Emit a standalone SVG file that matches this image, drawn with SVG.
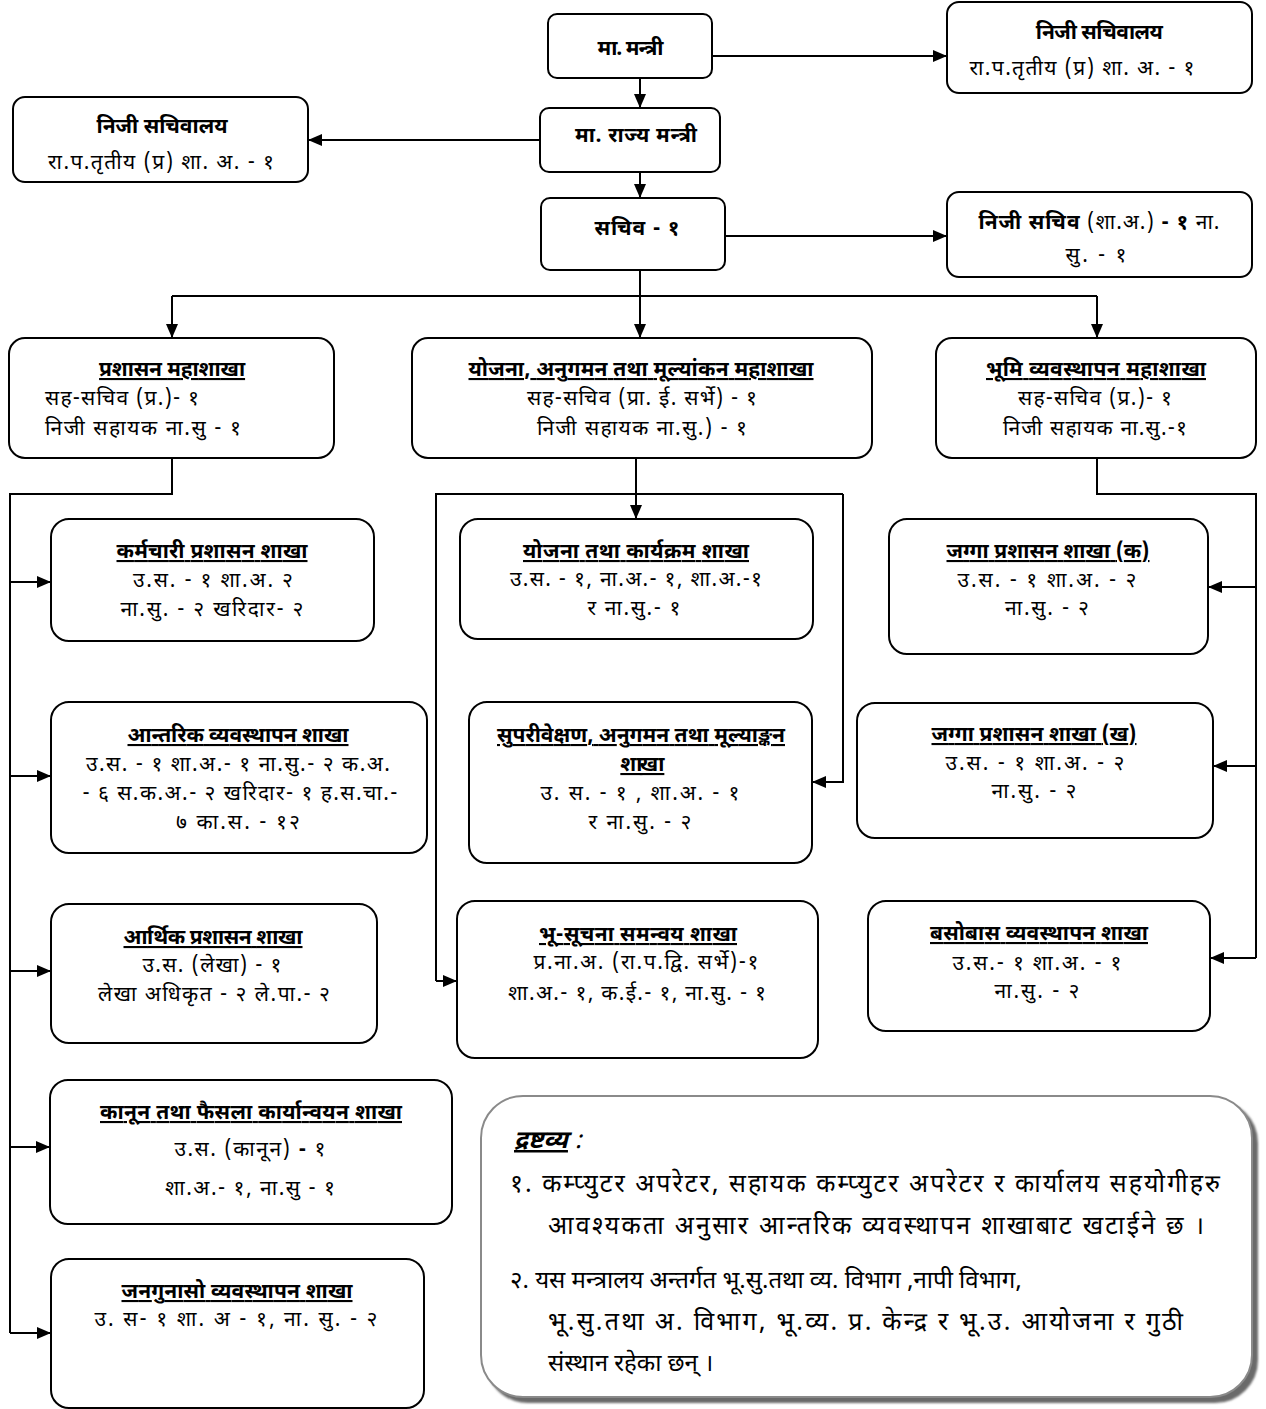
<svg xmlns="http://www.w3.org/2000/svg" width="1266" height="1409" viewBox="0 0 1266 1409">
<defs>
<marker id="ah" viewBox="0 0 14 12" refX="14" refY="6" markerWidth="14" markerHeight="12" orient="auto" markerUnits="userSpaceOnUse">
<path d="M0,0 L14,6 L0,12 z" fill="#000"/>
</marker>
<filter id="sh" x="-5%" y="-5%" width="110%" height="110%">
<feDropShadow dx="5" dy="5" stdDeviation="1.2" flood-color="#6b6b6b" flood-opacity="1"/>
</filter>
</defs>
<style>
.box{fill:#fff;stroke:#000;stroke-width:2}
.t{font-family:"Noto Sans Devanagari","Noto Sans","Liberation Sans",sans-serif;font-size:21px;fill:#000;text-anchor:middle}
.b{font-weight:bold}
.u{text-decoration:underline}
.l{text-anchor:start}
.c{fill:none;stroke:#000;stroke-width:2}
.a{fill:none;stroke:#000;stroke-width:2;marker-end:url(#ah)}
.n{font-family:"Noto Sans Devanagari","Noto Sans","Liberation Sans",sans-serif;font-size:25px;fill:#000}
.ns{font-size:24px}
</style>
<rect width="1266" height="1409" fill="#fff"/>
<g id="connectors">
<path class="a" d="M712,56 H947"/>
<path class="a" d="M640,78 V108"/>
<path class="a" d="M540,140 H308"/>
<path class="a" d="M640,172 V198"/>
<path class="a" d="M725,236 H947"/>
<path class="c" d="M640,270 V296 M172,296 H1097"/>
<path class="a" d="M172,296 V338"/>
<path class="a" d="M640,296 V338"/>
<path class="a" d="M1097,296 V338"/>
<path class="c" d="M172,459 V494 H10 V1333"/>
<path class="a" d="M10,582 H51"/>
<path class="a" d="M10,776 H51"/>
<path class="a" d="M10,971 H51"/>
<path class="a" d="M10,1147 H50"/>
<path class="a" d="M10,1333 H51"/>
<path class="a" d="M636,459 V519"/>
<path class="c" d="M436,981 V494 H843"/>
<path class="a" d="M436,981 H457"/>
<path class="a" d="M843,494 V782 H812"/>
<path class="c" d="M1097,459 V494 H1256 V958"/>
<path class="a" d="M1256,587 H1208"/>
<path class="a" d="M1256,766 H1213"/>
<path class="a" d="M1256,958 H1210"/>
</g>
<g id="n-mantri">
<rect class="box" x="548" y="14" width="164" height="64" rx="9"/>
<text class="t b" x="630" y="55" textLength="66" lengthAdjust="spacing">मा. मन्त्री</text>
</g>
<g id="n-nijisachivalaya1">
<rect class="box" x="947" y="2" width="305" height="91" rx="12"/>
<text class="t b" x="1099" y="39" textLength="127" lengthAdjust="spacing">निजी सचिवालय</text>
<text class="t" x="1082" y="75" textLength="225" lengthAdjust="spacing">रा.प.तृतीय (प्र) शा. अ. - १</text>
</g>
<g id="n-rajyamantri">
<rect class="box" x="540" y="108" width="180" height="64" rx="9"/>
<text class="t b" x="636" y="142" textLength="122" lengthAdjust="spacing">मा. राज्य मन्त्री</text>
</g>
<g id="n-nijisachivalaya2">
<rect class="box" x="13" y="97" width="295" height="85" rx="12"/>
<text class="t b" x="162" y="133" textLength="131" lengthAdjust="spacing">निजी सचिवालय</text>
<text class="t" x="161" y="169" textLength="226" lengthAdjust="spacing">रा.प.तृतीय (प्र) शा. अ. - १</text>
</g>
<g id="n-sachiv">
<rect class="box" x="541" y="198" width="184" height="72" rx="9"/>
<text class="t b" x="637" y="235" textLength="85" lengthAdjust="spacing">सचिव - १</text>
</g>
<g id="n-nijisachiv">
<rect class="box" x="947" y="192" width="305" height="85" rx="12"/>
<text class="t" x="1099" y="229" textLength="241" lengthAdjust="spacing"><tspan class="b">निजी सचिव</tspan> (शा.अ.) <tspan class="b">- १</tspan> ना.</text>
<text class="t" x="1096" y="262" textLength="61" lengthAdjust="spacing">सु. - १</text>
</g>
<g id="n-prashasan-mahashakha">
<rect class="box" x="9" y="338" width="325" height="120" rx="16"/>
<text class="t b u" x="172" y="376" textLength="146" lengthAdjust="spacing">प्रशासन महाशाखा</text>
<text class="t l" x="45" y="405" textLength="154" lengthAdjust="spacing">सह-सचिव (प्र.)- १</text>
<text class="t l" x="45" y="435" textLength="196" lengthAdjust="spacing">निजी सहायक ना.सु - १</text>
</g>
<g id="n-yojana-mahashakha">
<rect class="box" x="412" y="338" width="460" height="120" rx="16"/>
<text class="t b u" x="641" y="376" textLength="345" lengthAdjust="spacing">योजना, अनुगमन तथा मूल्यांकन महाशाखा</text>
<text class="t" x="642" y="405" textLength="230" lengthAdjust="spacing">सह-सचिव (प्रा. ई. सर्भे) - १</text>
<text class="t" x="642" y="435" textLength="210" lengthAdjust="spacing">निजी सहायक ना.सु.) - १</text>
</g>
<g id="n-bhumi-mahashakha">
<rect class="box" x="936" y="338" width="320" height="120" rx="16"/>
<text class="t b u" x="1096" y="376" textLength="220" lengthAdjust="spacing">भूमि  व्यवस्थापन महाशाखा</text>
<text class="t" x="1095" y="405" textLength="154" lengthAdjust="spacing">सह-सचिव (प्र.)- १</text>
<text class="t" x="1095" y="435" textLength="184" lengthAdjust="spacing">निजी सहायक ना.सु.-१</text>
</g>
<g id="n-karmachari">
<rect class="box" x="51" y="519" width="323" height="122" rx="18"/>
<text class="t b u" x="212" y="558" textLength="191" lengthAdjust="spacing">कर्मचारी प्रशासन शाखा</text>
<text class="t" x="213" y="587" textLength="160" lengthAdjust="spacing">उ.स. - १ शा.अ. २</text>
<text class="t" x="212" y="616" textLength="183" lengthAdjust="spacing">ना.सु. - २ खरिदार- २</text>
</g>
<g id="n-antarik">
<rect class="box" x="51" y="702" width="376" height="151" rx="18"/>
<text class="t b u" x="238" y="742" textLength="221" lengthAdjust="spacing">आन्तरिक व्यवस्थापन शाखा</text>
<text class="t" x="238" y="771" textLength="304" lengthAdjust="spacing">उ.स. - १ शा.अ.- १ ना.सु.- २ क.अ.</text>
<text class="t" x="240" y="800" textLength="315" lengthAdjust="spacing">- ६ स.क.अ.- २ खरिदार- १ ह.स.चा.-</text>
<text class="t" x="238" y="829" textLength="124" lengthAdjust="spacing">७ का.स. - १२</text>
</g>
<g id="n-arthik">
<rect class="box" x="51" y="904" width="326" height="139" rx="18"/>
<text class="t b u" x="213" y="944" textLength="179" lengthAdjust="spacing">आर्थिक प्रशासन शाखा</text>
<text class="t" x="212" y="972" textLength="139" lengthAdjust="spacing">उ.स. (लेखा) - १</text>
<text class="t" x="214" y="1001" textLength="232" lengthAdjust="spacing">लेखा अधिकृत - २ ले.पा.- २</text>
</g>
<g id="n-kanun">
<rect class="box" x="50" y="1080" width="402" height="144" rx="18"/>
<text class="t b u" x="251" y="1119" textLength="302" lengthAdjust="spacing">कानून तथा फैसला कार्यान्वयन शाखा</text>
<text class="t" x="250" y="1156" textLength="151" lengthAdjust="spacing">उ.स. (कानून) <tspan class="b">-</tspan> १</text>
<text class="t" x="250" y="1195" textLength="170" lengthAdjust="spacing">शा.अ.- १, ना.सु - १</text>
</g>
<g id="n-janagunaso">
<rect class="box" x="51" y="1259" width="373" height="149" rx="18"/>
<text class="t b u" x="237" y="1298" textLength="231" lengthAdjust="spacing">जनगुनासो व्यवस्थापन शाखा</text>
<text class="t" x="236" y="1326" textLength="283" lengthAdjust="spacing">उ. स- १ शा. अ - १, ना. सु. - २</text>
</g>
<g id="n-yojana-karyakram">
<rect class="box" x="460" y="519" width="353" height="120" rx="18"/>
<text class="t b u" x="636" y="558" textLength="226" lengthAdjust="spacing">योजना तथा कार्यक्रम शाखा</text>
<text class="t" x="636" y="586" textLength="252" lengthAdjust="spacing">उ.स. - १, ना.अ.- १, शा.अ.-१</text>
<text class="t" x="634" y="615" textLength="93" lengthAdjust="spacing">र ना.सु.- १</text>
</g>
<g id="n-supariwekshan">
<rect class="box" x="469" y="702" width="343" height="161" rx="18"/>
<text class="t b u" x="641" y="742" textLength="288" lengthAdjust="spacing">सुपरीवेक्षण, अनुगमन तथा मूल्याङ्कन</text>
<text class="t b u" x="641" y="771" textLength="44" lengthAdjust="spacing">शाखा</text>
<text class="t" x="640" y="800" textLength="199" lengthAdjust="spacing">उ. स. - १ , शा.अ. - १</text>
<text class="t" x="640" y="829" textLength="103" lengthAdjust="spacing">र ना.सु. - २</text>
</g>
<g id="n-bhusuchana">
<rect class="box" x="457" y="901" width="361" height="157" rx="18"/>
<text class="t b u" x="638" y="941" textLength="198" lengthAdjust="spacing">भू-सूचना समन्वय शाखा</text>
<text class="t" x="646" y="969" textLength="225" lengthAdjust="spacing">प्र.ना.अ. (रा.प.द्वि. सर्भे)-१</text>
<text class="t" x="637" y="1000" textLength="258" lengthAdjust="spacing">शा.अ.- १, क.ई.- १, ना.सु. - १</text>
</g>
<g id="n-jagga-ka">
<rect class="box" x="889" y="519" width="319" height="135" rx="18"/>
<text class="t b u" x="1048" y="558" textLength="203" lengthAdjust="spacing">जग्गा प्रशासन शाखा (क)</text>
<text class="t" x="1047" y="587" textLength="179" lengthAdjust="spacing">उ.स. - १ शा.अ. - २</text>
<text class="t" x="1047" y="615" textLength="84" lengthAdjust="spacing">ना.सु. - २</text>
</g>
<g id="n-jagga-kha">
<rect class="box" x="857" y="703" width="356" height="135" rx="18"/>
<text class="t b u" x="1034" y="741" textLength="205" lengthAdjust="spacing">जग्गा प्रशासन शाखा (ख)</text>
<text class="t" x="1035" y="770" textLength="179" lengthAdjust="spacing">उ.स. - १ शा.अ. - २</text>
<text class="t" x="1034" y="798" textLength="85" lengthAdjust="spacing">ना.सु. - २</text>
</g>
<g id="n-basobas">
<rect class="box" x="868" y="901" width="342" height="130" rx="18"/>
<text class="t b u" x="1039" y="940" textLength="218" lengthAdjust="spacing">बसोबास व्यवस्थापन शाखा</text>
<text class="t" x="1037" y="970" textLength="169" lengthAdjust="spacing">उ.स.- १ शा.अ. - १</text>
<text class="t" x="1037" y="998" textLength="85" lengthAdjust="spacing">ना.सु. - २</text>
</g>
<g id="n-note">
<rect x="481" y="1096" width="771" height="301" rx="42" fill="#fff" stroke="#8a8a8a" stroke-width="2" filter="url(#sh)"/>
<text class="n" x="514" y="1148" font-style="italic"><tspan class="b u">द्रष्टव्य</tspan> :</text>
<text class="n" x="510" y="1192" textLength="710" lengthAdjust="spacing">१. कम्प्युटर अपरेटर, सहायक कम्प्युटर अपरेटर र कार्यालय सहयोगीहरु</text>
<text class="n" x="548" y="1234" textLength="656" lengthAdjust="spacing">आवश्यकता अनुसार आन्तरिक व्यवस्थापन शाखाबाट खटाईने छ ।</text>
<text class="n ns" x="510" y="1288">२. यस मन्त्रालय अन्तर्गत भू.सु.तथा व्य. विभाग ,नापी विभाग,</text>
<text class="n" x="548" y="1330" textLength="635" lengthAdjust="spacing">भू.सु.तथा अ. विभाग, भू.व्य. प्र. केन्द्र र भू.उ. आयोजना र गुठी</text>
<text class="n ns" x="548" y="1371">संस्थान रहेका छन् ।</text>
</g>
</svg>
